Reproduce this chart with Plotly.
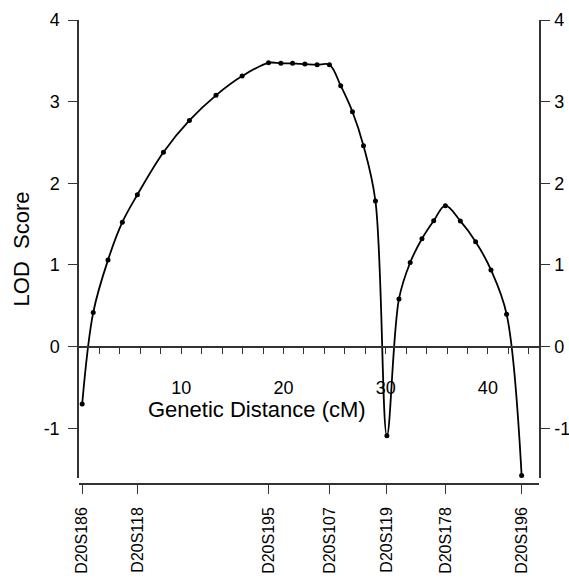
import plotly.graph_objects as go

# LOD score curve (cM, LOD)
dist_cm = [0.31, 1.39, 2.84, 4.24, 5.71, 8.26, 10.8, 13.4, 15.96, 18.54, 19.75, 20.89, 22.1,
           23.3, 24.5, 25.6, 26.75, 27.83, 29.0, 30.12, 31.3, 32.4, 33.55, 34.7, 35.84,
           37.3, 38.8, 40.3, 41.83, 43.3]
lod = [-0.705, 0.416, 1.061, 1.523, 1.86, 2.38, 2.77, 3.077, 3.313, 3.476, 3.469, 3.469, 3.46,
       3.452, 3.452, 3.195, 2.876, 2.46, 1.783, -1.093, 0.584, 1.03, 1.32, 1.54, 1.726,
       1.539, 1.285, 0.939, 0.397, -1.579]

# Marker loci along the bottom
marker_names = ["D20S186", "D20S118", "D20S195", "D20S107", "D20S119", "D20S178", "D20S196"]
marker_pos = [0.31, 5.71, 18.54, 24.5, 30.12, 35.84, 43.3]

x_tick_vals = [2, 4, 6, 8, 10, 12, 14, 16, 18, 20, 22, 24, 26, 28, 30, 32, 34, 36, 38, 40, 42, 44]
x_tick_text = ["", "", "", "", "10", "", "", "", "", "20", "", "", "", "", "30", "", "", "", "", "40", "", ""]
y_ticks = [-1, 0, 1, 2, 3, 4]
y_tick_text = ["-1", "0", "1", "2", "3", "4"]
x_range = [0, 45]
y_range = [-1.61, 4]

FONT = "Arial, Liberation Sans, Helvetica, sans-serif"
AX = "#333333"

y_dom0 = 6 / 464
zero_pos = y_dom0 + (1 - y_dom0) * (0 - y_range[0]) / (y_range[1] - y_range[0])

fig = go.Figure()
fig.add_trace(go.Scatter(
    x=dist_cm, y=lod, mode="lines+markers",
    line=dict(color="black", width=1.8, shape="spline", smoothing=1.0),
    marker=dict(color="black", size=5),
    showlegend=False, hoverinfo="skip"))
# helper traces so overlay axes are drawn
fig.add_trace(go.Scatter(x=marker_pos, y=[None] * len(marker_pos), xaxis="x2", yaxis="y",
                         showlegend=False, hoverinfo="skip"))
fig.add_trace(go.Scatter(x=[None], y=[None], xaxis="x", yaxis="y2",
                         showlegend=False, hoverinfo="skip"))

fig.update_layout(
    width=569, height=579,
    margin=dict(l=79, r=30, t=20, b=95, autoexpand=False),
    paper_bgcolor="white", plot_bgcolor="white",
    font=dict(family=FONT, color="black"),
    xaxis=dict(range=x_range, domain=[0, 1], anchor="free", position=zero_pos, automargin=False,
               showline=True, linecolor=AX, linewidth=1.5, showgrid=False, zeroline=False,
               tickmode="array", tickvals=x_tick_vals, ticktext=x_tick_text,
               ticks="outside", ticklen=7,
               tickcolor=AX, tickwidth=1.3, tickfont=dict(size=18),
               ticklabelstandoff=18),
    xaxis2=dict(range=x_range, overlaying="x", anchor="free", position=0, automargin=False,
                showline=True, linecolor=AX, linewidth=1.5, showgrid=False, zeroline=False,
                tickmode="array", tickvals=marker_pos, ticktext=marker_names,
                tickangle=-90, ticks="outside", ticklen=9, tickcolor=AX, tickwidth=1.3,
                tickfont=dict(size=16), ticklabelstandoff=7),
    yaxis=dict(range=y_range, domain=[y_dom0, 1], anchor="x", automargin=False,
               showline=True, linecolor=AX, linewidth=1.5, showgrid=False, zeroline=False,
               tickmode="array", tickvals=y_ticks, ticktext=y_tick_text,
               ticks="outside", ticklen=9,
               tickcolor=AX, tickwidth=1.3, tickfont=dict(size=18), ticklabelstandoff=5),
    yaxis2=dict(range=y_range, overlaying="y", side="right", anchor="x", automargin=False,
                showline=True, linecolor=AX, linewidth=1.5, showgrid=False, zeroline=False,
                tickmode="array", tickvals=y_ticks, ticktext=y_tick_text,
                ticks="outside", ticklen=9,
                tickcolor=AX, tickwidth=1.3, tickfont=dict(size=18), ticklabelstandoff=1),
    annotations=[
        dict(text="Genetic Distance (cM)", x=17.4, y=-0.775, xref="x", yref="y",
             showarrow=False, xanchor="center", yanchor="middle",
             font=dict(size=22, family=FONT, color="black")),
        dict(text="LOD  Score", x=-0.123, y=0.5065, xref="paper", yref="paper",
             showarrow=False, xanchor="center", yanchor="middle", textangle=-90,
             font=dict(size=22, family=FONT, color="black")),
    ],
)

fig.write_html("out.html", config={"displayModeBar": False},
               post_script="document.body.style.margin='0';document.body.style.padding='0';")
